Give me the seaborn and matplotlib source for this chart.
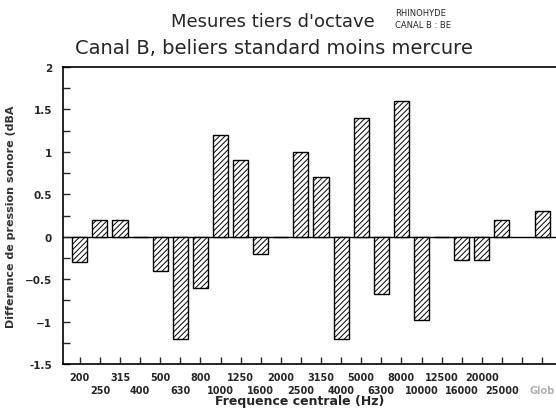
import numpy as np
import pandas as pd
import matplotlib
matplotlib.use("Agg")
import matplotlib.pyplot as plt
import seaborn as sns

bands = ["200", "250", "315", "400", "500", "630", "800", "1000", "1250", "1600",
         "2000", "2500", "3150", "4000", "5000", "6300", "8000", "10000", "12500",
         "16000", "20000", "25000", "31500", "Glob"]
tick_labels = ["200", "250", "315", "400", "500", "630", "800", "1000", "1250", "1600",
               "2000", "2500", "3150", "4000", "5000", "6300", "8000", "10000", "12500",
               "16000", "20000", "25000", "", "Glob"]
diff_dba = [-0.3, 0.2, 0.2, 0.0, -0.4, -1.2, -0.6, 1.2, 0.9, -0.2,
            0.0, 1.0, 0.7, -1.2, 1.4, -0.68, 1.6, -0.98, 0.0,
            -0.28, -0.28, 0.2, np.nan, 0.3]

sns.set_theme(style="white")
plt.rcParams['font.family'] = ['DejaVu Sans']
plt.rcParams['hatch.linewidth'] = 0.7

df = pd.DataFrame({"band": bands, "diff": diff_dba})

fig = plt.figure(figsize=(5.56, 4.10), dpi=100)
ax = fig.add_axes([63/556, 1-365/410, 1-63/556, (365-68)/410])

sns.barplot(data=df, x="band", y="diff", order=bands, ax=ax, color="white",
            edgecolor="black", linewidth=1.0, width=0.75,
            errorbar=None, saturation=1)
for p in ax.patches:
    p.set_hatch("//////")
    p.set_facecolor("white")
    p.set_edgecolor("black")

ax.axhline(0, color="black", linewidth=1.0, zorder=0.5)
ax.set_xlim(-0.836, 23.69)
ax.set_ylim(-1.5, 2)

ax.set_yticks([-1.5, -1, -0.5, 0, 0.5, 1, 1.5, 2])
ax.set_yticklabels(["-1.5", "\u22121", "\u22120.5", "0", "0.5", "1", "1.5", "2"],
                   fontsize=7.5, fontweight="bold")
ax.set_yticks(np.arange(-1.5, 2.01, 0.25), minor=True)
ax.tick_params(axis="y", which="both", direction="in", left=True, length=5, width=1, pad=8)

even = list(range(0, len(bands), 2))
odd = list(range(1, len(bands), 2))
ax.set_xticks(even)
ax.set_xticklabels([tick_labels[i] for i in even], fontsize=7, fontweight="bold")
ax.set_xticks(odd, minor=True)
ax.set_xticklabels([tick_labels[i] for i in odd], minor=True, fontsize=7, fontweight="bold")
ax.tick_params(axis="x", which="major", direction="in", bottom=True, length=5, width=1, pad=6)
ax.tick_params(axis="x", which="minor", direction="in", bottom=True, length=5, width=1, pad=15)
ax.get_xticklabels(minor=True)[-1].set_color("#b0b0b0")

for s in ["left", "bottom", "top"]:
    ax.spines[s].set_color("black")
    ax.spines[s].set_linewidth(1.2)
ax.spines["right"].set_visible(False)

ax.set_xlabel("Frequence centrale (Hz)", fontsize=9, fontweight="bold")
ax.xaxis.set_label_coords((300-63)/493, (365-395)/297)
ax.set_ylabel("Differance de pression sonore (dBA", fontsize=8, fontweight="bold",
              labelpad=6, color="#333333")

fig.text(273/556, 1-22/410, "Mesures tiers d'octave", ha="center", va="center", fontsize=13)
fig.text(274/556, 1-48/410, "Canal B, beliers standard moins mercure", ha="center",
         va="center", fontsize=14)
fig.text(395/556, 1-13/410, "RHINOHYDE", ha="left", va="center", fontsize=6)
fig.text(395/556, 1-25/410, "CANAL B : BE", ha="left", va="center", fontsize=6)

fig.savefig("out.png", dpi=100)
